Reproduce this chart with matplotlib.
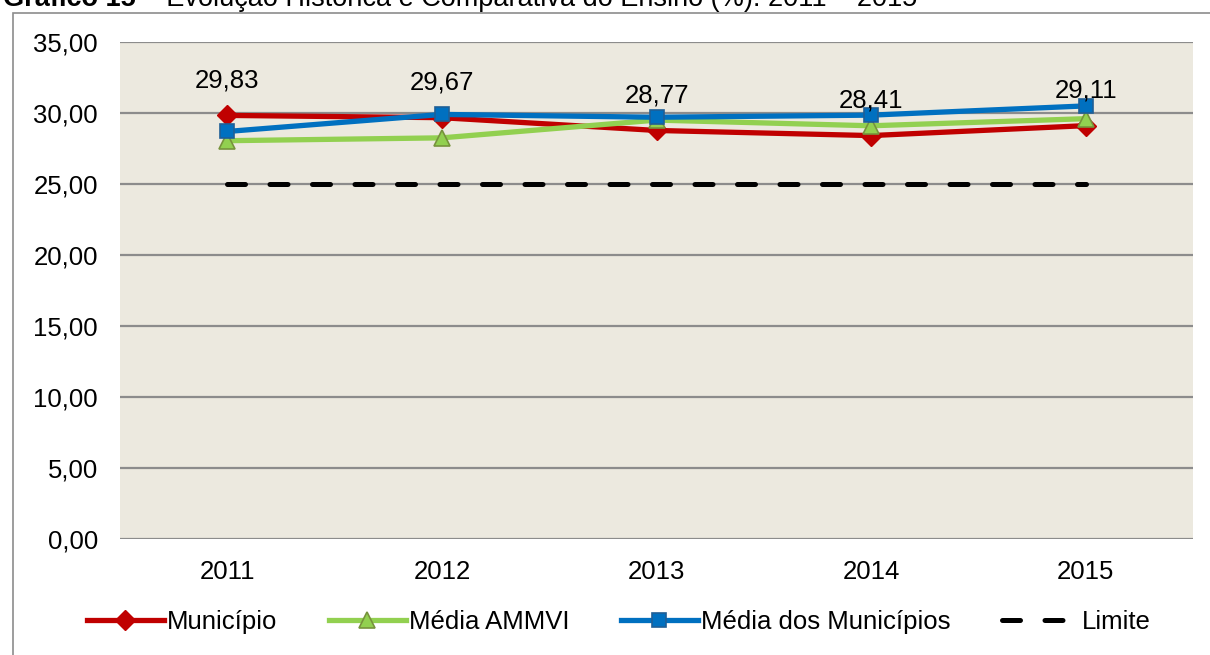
import numpy as np
import matplotlib.pyplot as plt
from matplotlib.patches import Rectangle

plt.rcParams['font.family'] = ['Liberation Sans', 'DejaVu Sans']

anos = ['2011', '2012', '2013', '2014', '2015']
municipio = [29.83, 29.67, 28.77, 28.41, 29.11]
media_ammvi = [28.05, 28.25, 29.50, 29.10, 29.60]
media_municipios = [28.70, 29.90, 29.70, 29.85, 30.50]
limite = [25, 25, 25, 25, 25]
yticks = [0, 5, 10, 15, 20, 25, 30, 35]

W, H = 1210, 655
fs = 18.5
fig = plt.figure(figsize=(W / 100, H / 100), dpi=100)

# moldura cinza do grafico (cortada na direita e embaixo)
fig.patches.append(Rectangle((12.5 / W, -0.1), 1.2, 1 - 12.7 / H + 0.1,
                             transform=fig.transFigure, fill=False,
                             edgecolor='#8c8c8c', lw=1.2))

ax = fig.add_axes([120 / W, 1 - 539 / H, (1193 - 120) / W, (539 - 42) / H])
ax.set_facecolor('#ece9df')
for s in ax.spines.values():
    s.set_visible(False)

x = np.arange(len(anos))

ax.plot(x, municipio, color='#c00000', lw=3.8, marker='D', ms=10,
        mfc='#c00000', mec='#c00000', label='Município', zorder=3)
ax.plot(x, media_ammvi, color='#92d050', lw=3.8, marker='^', ms=11,
        mfc='#92d050', mec='#77933c', mew=1.2, label='Média AMMVI', zorder=4)
ax.plot(x, media_municipios, color='#0070c0', lw=3.8, marker='s', ms=10,
        mfc='#0070c0', mec='#1f5f96', mew=1.2, label='Média dos Municípios', zorder=5)
ax.plot(x, limite, color='black', lw=3.6, dashes=(3.6, 4.9),
        dash_capstyle='round', label='Limite', zorder=3)

# rotulos so na serie do municipio
for xi, v in zip(x, municipio):
    ax.annotate(f'{v:.2f}'.replace('.', ','), (xi, v), xytext=(0, 25),
                textcoords='offset points', ha='center', va='center',
                fontsize=fs, zorder=6)

ax.set_xlim(-0.5, len(anos) - 0.5)
ax.set_ylim(0, 35)
ax.set_xticks(x)
ax.set_xticklabels(anos)
ax.set_yticks(yticks)
ax.set_yticklabels([f'{t:.2f}'.replace('.', ',') for t in yticks])
ax.tick_params(axis='both', length=0, labelsize=fs)
ax.tick_params(axis='y', pad=16)
ax.tick_params(axis='x', pad=15)
ax.yaxis.grid(True, color='#8c8c8c', lw=1.6)
ax.set_axisbelow(True)

fig.legend(loc='center', bbox_to_anchor=(619 / W, 1 - 622 / H), ncol=4,
           frameon=False, fontsize=fs, handlelength=3.0,
           handletextpad=0.12, columnspacing=2.0)

t1 = fig.text(3 / W, 1 - 6 / H, 'Gráfico 15', fontsize=19.5, fontweight='bold',
              ha='left', va='baseline')
ax.annotate(' – Evolução Histórica e Comparativa do Ensino (%): 2011 – 2015',
            xy=(1, 0), xycoords=t1, ha='left', va='bottom', fontsize=19.5,
            annotation_clip=False)

fig.savefig('out.png', dpi=100)
